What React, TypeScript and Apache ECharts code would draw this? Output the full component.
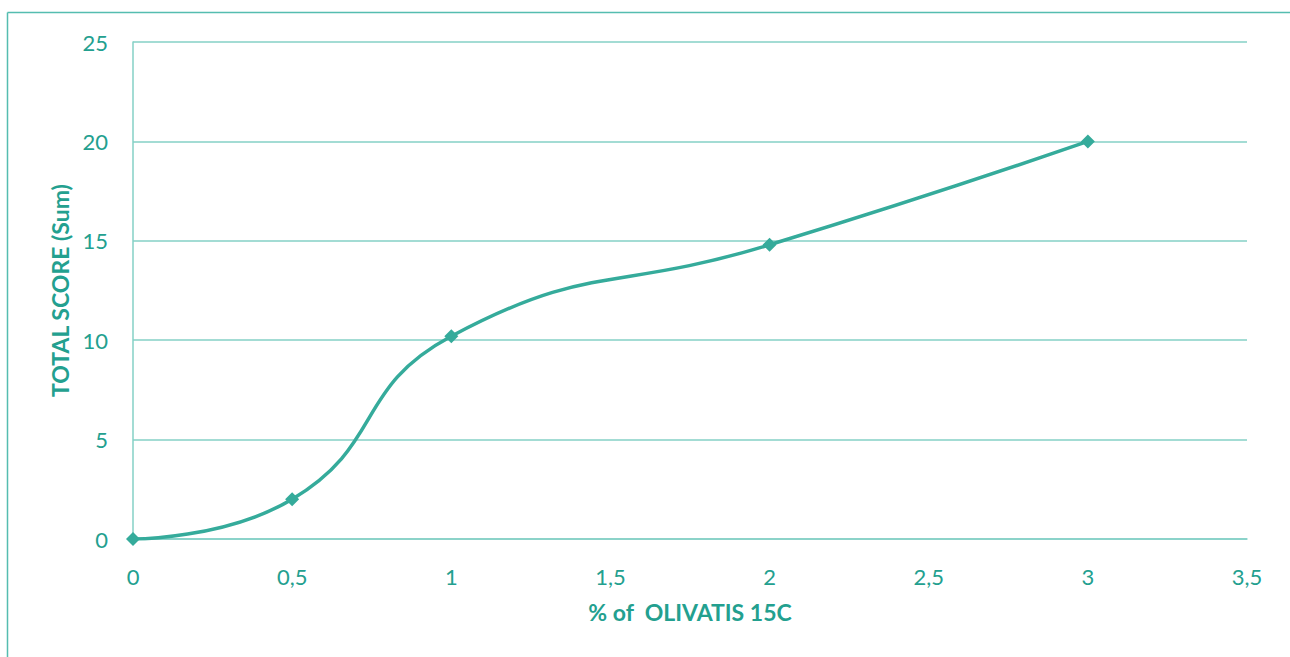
import React, { useEffect, useRef } from "react";
import * as echarts from "echarts";

const xValues = [0, 0.5, 1, 2, 3];
const yValues = [0, 2, 10.2, 14.8, 20];
const xTitle = "% of  OLIVATIS 15C";
const yTitle = "TOTAL SCORE (Sum)";

const TEXT = "#23a08f";
const LINE = "#35ab9b";
const GRID = "#84d0c6";
const BORDER = "#55bdb0";
const FONT = "Lato, 'Open Sans', sans-serif";

export default function App() {
  const ref = useRef<HTMLDivElement>(null);
  useEffect(() => {
    const chart = echarts.init(ref.current!, null, { renderer: "svg" });
    const fmt = (v: number) => String(v).replace(".", ",");
    chart.setOption({
      animation: false,
      backgroundColor: "#ffffff",
      grid: { left: 133, right: 43, top: 42, bottom: 118 },
      xAxis: {
        type: "value",
        min: 0,
        max: 3.5,
        interval: 0.5,
        name: xTitle,
        nameLocation: "middle",
        nameGap: 61,
        nameTextStyle: { color: TEXT, fontSize: 23, fontWeight: "bold", fontFamily: FONT },
        axisLine: { show: true, lineStyle: { color: GRID, width: 1.5 } },
        axisTick: { show: false },
        splitLine: { show: false },
        axisLabel: { color: TEXT, fontSize: 22, fontFamily: FONT, margin: 26, formatter: fmt },
      },
      yAxis: {
        type: "value",
        min: 0,
        max: 25,
        interval: 5,
        name: yTitle,
        nameLocation: "middle",
        nameGap: 62,
        nameTextStyle: { color: TEXT, fontSize: 23, fontWeight: "bold", fontFamily: FONT },
        axisLine: { show: true, lineStyle: { color: GRID, width: 1.5 } },
        axisTick: { show: false },
        splitLine: { show: true, lineStyle: { color: GRID, width: 1.5 } },
        axisLabel: { color: TEXT, fontSize: 22, fontFamily: FONT, margin: 25 },
      },
      series: [
        {
          type: "line",
          data: xValues.map((x, i) => [x, yValues[i]]),
          smooth: 0.5,
          symbol: "diamond",
          symbolSize: 14,
          lineStyle: { color: LINE, width: 3.5 },
          itemStyle: { color: LINE },
        },
      ],
      graphic: [
        { type: "line", shape: { x1: 7.5, y1: 12.5, x2: 1290, y2: 12.5 }, style: { stroke: BORDER, lineWidth: 1.5 } },
        { type: "line", shape: { x1: 7.5, y1: 12.5, x2: 7.5, y2: 657 }, style: { stroke: BORDER, lineWidth: 1.5 } },
      ],
    });
    return () => chart.dispose();
  }, []);
  return (
    <div
      ref={ref}
      style={{ position: "fixed", left: 0, top: 0, width: 1290, height: 657 }}
    />
  );
}
